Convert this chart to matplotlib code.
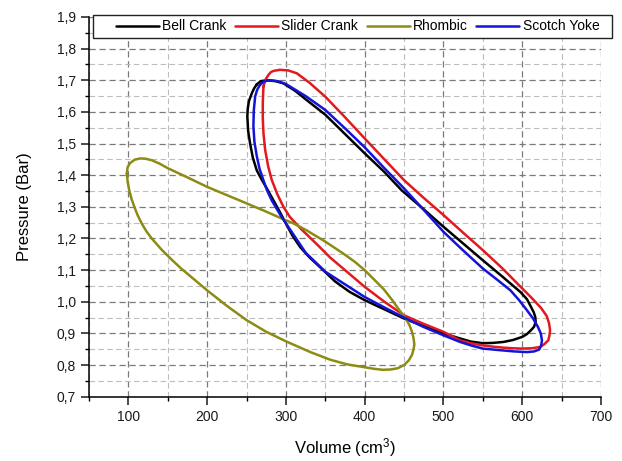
"""
P-V loops for four drive mechanisms (pressure vs. volume).

Saves out.png (622x461).
"""
import matplotlib
matplotlib.use("Agg")
import matplotlib.pyplot as plt
import matplotlib.patches as mpatches
from matplotlib.ticker import MultipleLocator, FuncFormatter

plt.rcParams["font.family"] = ["Liberation Sans", "DejaVu Sans"]
plt.rcParams["mathtext.default"] = "regular"

# Loop traces (volume in cm3, pressure in bar), clockwise
bell_v = [263, 268, 276, 287, 297, 312, 326, 350, 375, 400, 425, 447, 475, 500,
          525, 550, 575, 598, 606, 611, 614.5, 616.5, 617, 615, 611, 606, 600,
          588, 576, 563, 550, 535, 521, 500, 475, 450, 425, 400, 381, 362, 343,
          330, 318, 308, 300, 292, 284, 276, 269, 263, 258, 254.5, 252, 251, 251.5,
          253, 256.7, 259.5, 263]
bell_p = [1.687, 1.697, 1.700, 1.697, 1.690, 1.666, 1.638, 1.591, 1.530, 1.469,
          1.410, 1.352, 1.292, 1.237, 1.184, 1.131, 1.079, 1.030, 1.008, 0.984,
          0.967, 0.952, 0.936, 0.921, 0.910, 0.898, 0.889, 0.879, 0.873, 0.870,
          0.869, 0.874, 0.884, 0.900, 0.923, 0.947, 0.976, 1.005, 1.031, 1.065,
          1.110, 1.140, 1.173, 1.210, 1.247, 1.285, 1.321, 1.357, 1.387, 1.415,
          1.455, 1.500, 1.540, 1.586, 1.610, 1.634, 1.659, 1.674, 1.687]

slider_v = [271.4, 274, 277.8, 281, 285, 292.6, 303, 313.8, 330, 350, 375, 400,
            425, 450, 475, 500, 525, 550, 575, 600, 612, 624, 631, 634, 635.3,
            634.5, 633, 628, 622.5, 612, 600, 588, 576, 563, 550, 535, 521, 500,
            475, 450, 425, 400, 375, 356, 340, 320, 305, 296.8, 289, 282, 277.5,
            273.6, 271.5, 270.6, 270.6, 271.4]
slider_p = [1.680, 1.702, 1.717, 1.726, 1.730, 1.733, 1.731, 1.722, 1.692, 1.648,
            1.583, 1.516, 1.450, 1.384, 1.328, 1.274, 1.218, 1.163, 1.105, 1.042,
            1.012, 0.980, 0.955, 0.932, 0.910, 0.893, 0.878, 0.866, 0.857, 0.853,
            0.852, 0.853, 0.855, 0.858, 0.862, 0.869, 0.878, 0.905, 0.930, 0.957,
            1.000, 1.047, 1.100, 1.140, 1.180, 1.228, 1.268, 1.300, 1.340, 1.385,
            1.427, 1.480, 1.532, 1.580, 1.627, 1.680]

rhombic_v = [98, 99, 102, 108, 115, 122, 130, 140, 150, 175, 200, 225, 250, 272,
             292, 310, 326, 350, 373, 387, 400, 412, 424, 435, 445, 452, 457, 460,
             462, 463, 462, 460, 456, 450, 442, 433, 423, 412, 400, 378, 356, 330,
             300, 275, 250, 225, 200, 179, 167, 155, 142, 130, 123, 117, 112, 108,
             104, 101, 99, 98]
rhombic_p = [1.405, 1.425, 1.438, 1.449, 1.453, 1.452, 1.447, 1.436, 1.422, 1.393,
             1.363, 1.337, 1.311, 1.288, 1.266, 1.247, 1.226, 1.190, 1.152, 1.127,
             1.100, 1.070, 1.040, 1.005, 0.970, 0.948, 0.925, 0.905, 0.885, 0.865,
             0.850, 0.832, 0.815, 0.800, 0.790, 0.786, 0.785, 0.788, 0.793, 0.802,
             0.817, 0.842, 0.875, 0.905, 0.942, 0.987, 1.036, 1.080, 1.105, 1.133,
             1.165, 1.199, 1.222, 1.247, 1.272, 1.297, 1.325, 1.353, 1.380, 1.405]

yoke_v = [267, 270, 273, 280, 290, 300, 325, 350, 375, 400, 425, 450, 475, 500,
          525, 550, 568, 585, 596, 606, 614, 620, 623.5, 625, 624, 621.5, 615, 606,
          590, 576, 563, 550, 535, 521, 500, 475, 450, 425, 400, 375, 350, 325,
          307.5, 294, 282, 276, 271.4, 266.5, 263, 260, 258.7, 259.2, 261, 263.5,
          267]
yoke_p = [1.685, 1.692, 1.697, 1.700, 1.697, 1.688, 1.650, 1.606, 1.548, 1.488,
          1.422, 1.358, 1.290, 1.221, 1.162, 1.105, 1.070, 1.036, 1.005, 0.973,
          0.946, 0.920, 0.900, 0.878, 0.862, 0.849, 0.843, 0.841, 0.843, 0.846,
          0.849, 0.852, 0.862, 0.873, 0.894, 0.920, 0.950, 0.982, 1.015, 1.055,
          1.095, 1.155, 1.220, 1.270, 1.320, 1.352, 1.384, 1.420, 1.460, 1.505,
          1.555, 1.605, 1.650, 1.670, 1.685]

series = [
    ("Bell Crank", bell_v, bell_p, "#000000"),
    ("Slider Crank", slider_v, slider_p, "#e3191f"),
    ("Rhombic", rhombic_v, rhombic_p, "#8c8c14"),
    ("Scotch Yoke", yoke_v, yoke_p, "#1414d8"),
]

fig = plt.figure(figsize=(6.22, 4.61), dpi=100)
ax = fig.add_axes([0.1431, 0.1395, 0.8232, 0.8237])

for label, v, p, color in series:
    ax.plot(v, p, color=color, linewidth=1.8, label=label, zorder=3,
            solid_joinstyle="round", solid_capstyle="round")

ax.set_xlim(50, 700)
ax.set_ylim(0.7, 1.9)
ax.xaxis.set_major_locator(MultipleLocator(100))
ax.xaxis.set_minor_locator(MultipleLocator(50))
ax.yaxis.set_major_locator(MultipleLocator(0.1))
ax.yaxis.set_minor_locator(MultipleLocator(0.05))
ax.yaxis.set_major_formatter(FuncFormatter(lambda y, _: f"{y:.1f}".replace(".", ",")))

ax.grid(True, which="major", linestyle=(0, (5, 3)), color="#7a7a7a", linewidth=0.9, zorder=0)
ax.grid(True, which="minor", linestyle=(0, (5, 3)), color="#bdbdbd", linewidth=0.8, zorder=0)
ax.set_axisbelow(True)

for side in ("top", "right"):
    ax.spines[side].set_visible(False)
for side in ("left", "bottom"):
    ax.spines[side].set_linewidth(1.1)

ax.tick_params(which="major", direction="out", length=5.5, width=1.1, labelsize=10,
               pad=4, colors="#1a1a1a")
ax.tick_params(which="minor", direction="out", length=2.6, width=1.0)

ax.set_xlabel("Volume (cm$^3$)", fontsize=12, labelpad=9)
ax.set_ylabel("Pressure (Bar)", fontsize=12, labelpad=18)

# legend box sits on top of the plot, a bit wider than the axes (Origin style)
box = mpatches.Rectangle((0.0078, 0.945), 1.0137, 0.0605, transform=ax.transAxes,
                         facecolor="white", edgecolor="#222222", linewidth=1.0,
                         clip_on=False, zorder=5)
ax.add_patch(box)
leg = ax.legend(loc="center left", bbox_to_anchor=(0.052, 0.975), ncol=4,
                fontsize=10, frameon=False, borderaxespad=0, borderpad=0,
                handlelength=3.1, handletextpad=0.25, columnspacing=0.6)
leg.set_zorder(6)

fig.savefig("out.png", dpi=100)
